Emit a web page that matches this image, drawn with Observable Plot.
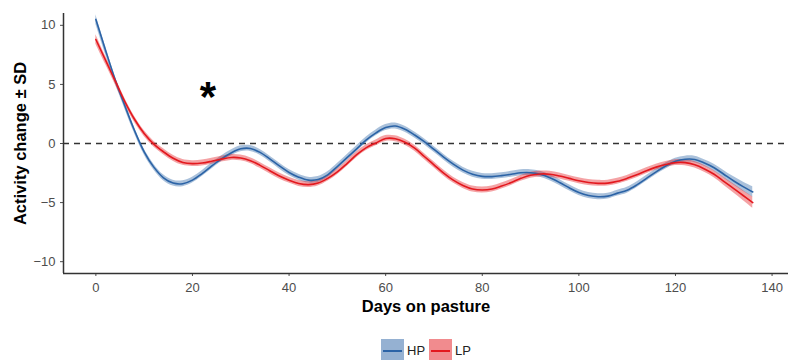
<!DOCTYPE html>
<html>
<head>
<meta charset="utf-8">
<script src="https://cdn.jsdelivr.net/npm/d3@7"></script>
<script src="https://cdn.jsdelivr.net/npm/@observablehq/plot@0.6"></script>
<style>
  body { margin: 0; background: #fff; font-family: "Liberation Sans", Arial, sans-serif; }
  #wrap { position: relative; width: 788px; height: 360px; overflow: hidden; }
  #legend { position: absolute; top: 339px; left: 381px; display: flex; align-items: center; font-size: 13px; color: #222; }
  .key { width: 23px; height: 23px; position: relative; }
  .key span { position: absolute; left: 2px; right: 2px; top: 10.5px; height: 2px; }
  .lab { margin: 0 4px 0 3px; }
</style>
</head>
<body>
<div id="wrap"><div id="chart"></div><div id="legend"></div></div>
<script>
const days = [0,2,4,6,8,10,12,14,16,18,20,22,24,26,28,30,32,34,36,38,40,42,44,46,48,50,52,54,56,58,60,62,64,66,68,70,72,74,76,78,80,82,84,86,88,90,92,94,96,98,100,102,104,106,108,110,112,114,116,118,120,122,124,126,128,130,132,134,136];
const hp = [10.5,7.9,5.4,3.2,1.1,-0.7,-2.0,-2.9,-3.35,-3.4,-3.1,-2.55,-1.9,-1.3,-0.8,-0.45,-0.42,-0.75,-1.3,-1.9,-2.45,-2.85,-3.1,-3.05,-2.65,-1.95,-1.2,-0.45,0.3,0.9,1.35,1.48,1.2,0.72,0.15,-0.5,-1.15,-1.75,-2.25,-2.6,-2.78,-2.8,-2.72,-2.6,-2.48,-2.47,-2.6,-2.9,-3.3,-3.75,-4.15,-4.4,-4.5,-4.45,-4.2,-3.95,-3.5,-2.95,-2.4,-1.9,-1.5,-1.33,-1.35,-1.65,-2.05,-2.6,-3.15,-3.65,-4.1];
const lp = [8.8,7.05,5.3,3.55,2.05,0.85,-0.05,-0.7,-1.25,-1.6,-1.7,-1.65,-1.5,-1.32,-1.18,-1.22,-1.45,-1.85,-2.3,-2.75,-3.1,-3.38,-3.48,-3.35,-2.95,-2.4,-1.7,-0.95,-0.35,0.05,0.42,0.4,0.1,-0.4,-1.1,-1.8,-2.5,-3.1,-3.55,-3.85,-3.93,-3.85,-3.6,-3.3,-2.95,-2.68,-2.58,-2.6,-2.75,-2.95,-3.15,-3.3,-3.37,-3.35,-3.2,-2.95,-2.65,-2.3,-2.0,-1.78,-1.62,-1.62,-1.8,-2.15,-2.6,-3.2,-3.8,-4.4,-5.0];
const hpSD = [0.4,0.35,0.3,0.28,0.26,0.25,0.25,0.25,0.25,0.25,0.25,0.25,0.25,0.25,0.25,0.25,0.25,0.25,0.25,0.25,0.25,0.25,0.25,0.25,0.25,0.25,0.25,0.25,0.25,0.25,0.25,0.25,0.25,0.25,0.25,0.25,0.25,0.25,0.25,0.25,0.25,0.25,0.25,0.25,0.25,0.25,0.25,0.25,0.25,0.25,0.25,0.25,0.25,0.25,0.25,0.25,0.25,0.25,0.25,0.25,0.25,0.26,0.27,0.28,0.3,0.32,0.35,0.4,0.45];
const lpSD = [0.4,0.35,0.3,0.28,0.26,0.25,0.25,0.25,0.25,0.25,0.25,0.25,0.25,0.25,0.25,0.25,0.25,0.25,0.25,0.25,0.25,0.25,0.25,0.25,0.25,0.25,0.25,0.25,0.25,0.25,0.25,0.25,0.25,0.25,0.25,0.25,0.25,0.25,0.25,0.25,0.25,0.25,0.25,0.25,0.25,0.25,0.25,0.25,0.25,0.25,0.25,0.25,0.25,0.25,0.25,0.25,0.25,0.25,0.25,0.25,0.25,0.26,0.27,0.28,0.3,0.33,0.37,0.42,0.48];
const groups = ["HP", "LP"];
const lineColors = ["#2b63a6", "#e3181e"];
const xTicks = [0,20,40,60,80,100,120,140];
const yTicks = [-10,-5,0,5,10];
const xDomain = [-6.7, 143.4];
const yDomain = [-11, 11];
const annX = [23.2], annY = [4.4], annText = ["*"];
const xTitle = "Days on pasture";
const yTitle = "Activity change \u00b1 SD";

const rows = [];
days.forEach((d, i) => {
  rows.push({day: d, group: "HP", v: hp[i], lo: hp[i] - hpSD[i], hi: hp[i] + hpSD[i]});
  rows.push({day: d, group: "LP", v: lp[i], lo: lp[i] - lpSD[i], hi: lp[i] + lpSD[i]});
});

const chart = Plot.plot({
  width: 788, height: 330,
  marginTop: 13, marginBottom: 57, marginLeft: 63, marginRight: 0,
  style: {fontFamily: "'Liberation Sans', Arial, sans-serif", background: "white"},
  x: {domain: xDomain},
  y: {domain: yDomain},
  color: {domain: groups, range: lineColors},
  marks: [
    Plot.ruleY([0], {stroke: "#333", strokeWidth: 1.4, strokeDasharray: "6,5"}),
    Plot.areaY(rows, {x: "day", y1: "lo", y2: "hi", fill: "group", fillOpacity: 0.4, curve: "catmull-rom"}),
    Plot.lineY(rows, {x: "day", y: "v", stroke: "group", strokeWidth: 1.6, curve: "catmull-rom"}),
    Plot.axisX({ticks: xTicks, tickSize: 3, tickPadding: 6, fontSize: 13, color: "#4d4d4d", label: null}),
    Plot.axisY({ticks: yTicks, tickSize: 3, tickPadding: 5, fontSize: 13, color: "#4d4d4d", label: null}),
    Plot.ruleX([xDomain[0]], {stroke: "#333", strokeWidth: 1.5}),
    Plot.ruleY([yDomain[0]], {stroke: "#333", strokeWidth: 1.5}),
    Plot.text(annText, {x: annX, y: annY, text: d => d, fontSize: 42, fontWeight: "bold", fill: "#000", dy: 6}),
    Plot.text([xTitle], {frameAnchor: "bottom", lineAnchor: "middle", textAnchor: "middle", dy: 33, text: d => d, fontSize: 16.5, fontWeight: "bold", fill: "#000"}),
    Plot.text([yTitle], {frameAnchor: "left", textAnchor: "middle", lineAnchor: "middle", dx: -43, rotate: -90, text: d => d, fontSize: 16.5, fontWeight: "bold", fill: "#000"})
  ]
});
document.getElementById("chart").appendChild(chart);

const legend = document.getElementById("legend");
groups.forEach((g, i) => {
  const key = document.createElement("div");
  key.className = "key";
  key.style.background = d3.color(lineColors[i]).copy({opacity: 0.5}).toString();
  const ln = document.createElement("span");
  ln.style.background = lineColors[i];
  key.appendChild(ln);
  const lab = document.createElement("div");
  lab.className = "lab";
  lab.textContent = g;
  legend.appendChild(key);
  legend.appendChild(lab);
});
</script>
</body>
</html>
